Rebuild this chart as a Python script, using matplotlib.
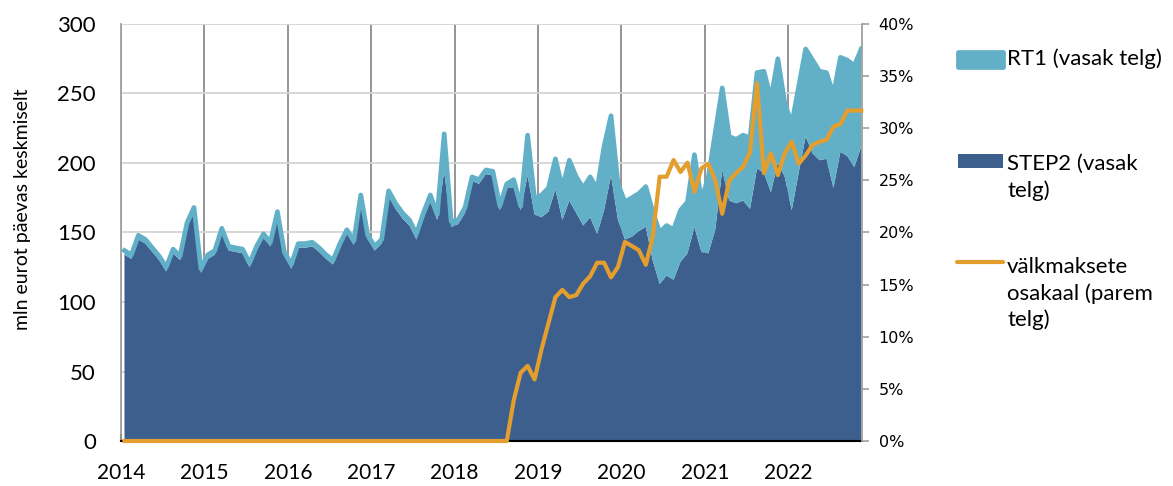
import numpy as np
import matplotlib
matplotlib.use("Agg")
import matplotlib.pyplot as plt
from matplotlib.patches import Rectangle
from matplotlib.lines import Line2D
from matplotlib.ticker import PercentFormatter

# kuised andmed, jaan 2014 - nov 2022 (mln eurot päevas keskmiselt)
step2_2014 = [134, 131, 145, 142, 136, 130, 122, 135, 130, 154, 164, 121]
step2_2015 = [131, 134, 150, 137, 136, 135, 125, 137, 146, 140, 161, 133]
step2_2016 = [124, 139, 139, 140, 136, 131, 127, 139, 149, 141, 172, 145]
step2_2017 = [137, 142, 176, 167, 160, 155, 145, 160, 172, 159, 194, 154]
step2_2018 = [156, 164, 187, 185, 192, 191, 166, 182, 182, 166, 191, 163]
step2_2019 = [161, 165, 181, 159, 173, 164, 155, 161, 149, 166, 191, 159]
step2_2020 = [145, 147, 151, 154, 130, 113, 119, 116, 129, 135, 154, 136]
step2_2021 = [135, 152, 195, 173, 171, 173, 167, 196, 193, 179, 200, 190]
step2_2022 = [166, 193, 219, 207, 202, 203, 182, 208, 205, 197, 212]

rt1_2014 = [3, 3, 3, 3, 3, 3, 3, 3, 3, 3, 4, 3]
rt1_2015 = [3, 3, 3, 3, 3, 3, 3, 3, 3, 3, 4, 3]
rt1_2016 = [3, 3, 3, 3, 3, 3, 3, 3, 3, 3, 5, 3]
rt1_2017 = [3, 3, 4, 4, 4, 4, 4, 4, 5, 4, 27, 4]
rt1_2018 = [3, 4, 3, 3, 3, 3, 3, 3, 6, 3, 29, 11]
rt1_2019 = [16, 17, 22, 23, 29, 26, 27, 29, 32, 46, 43, 26]
rt1_2020 = [27, 28, 27, 29, 35, 37, 36, 36, 37, 37, 52, 37]
rt1_2021 = [55, 70, 59, 46, 46, 47, 51, 69, 73, 67, 75, 53]
rt1_2022 = [62, 62, 63, 67, 64, 62, 67, 68, 69, 73, 70]

# välkmaksete osakaal, %
inst_2014 = [0] * 12
inst_2015 = [0] * 12
inst_2016 = [0] * 12
inst_2017 = [0] * 12
inst_2018 = [0, 0, 0, 0, 0, 0, 0, 0, 3.9, 6.55, 7.2, 5.9]
inst_2019 = [8.8, 11.3, 13.8, 14.5, 13.8, 14.0, 15.1, 15.8, 17.1, 17.1, 15.7, 16.7]
inst_2020 = [19.1, 18.7, 18.3, 16.9, 19.6, 25.35, 25.35, 26.95, 25.8, 26.7, 23.9, 26.15]
inst_2021 = [26.6, 25.0, 21.8, 25.0, 25.7, 26.3, 27.7, 34.3, 25.7, 27.6, 25.5, 27.6]
inst_2022 = [28.7, 26.6, 27.4, 28.4, 28.7, 28.9, 30.15, 30.4, 31.7, 31.7, 31.7]

years = list(range(2014, 2023))

step2 = np.array(step2_2014 + step2_2015 + step2_2016 + step2_2017 + step2_2018
                 + step2_2019 + step2_2020 + step2_2021 + step2_2022, dtype=float)
rt1 = np.array(rt1_2014 + rt1_2015 + rt1_2016 + rt1_2017 + rt1_2018
               + rt1_2019 + rt1_2020 + rt1_2021 + rt1_2022, dtype=float)
inst = np.array(inst_2014 + inst_2015 + inst_2016 + inst_2017 + inst_2018
                + inst_2019 + inst_2020 + inst_2021 + inst_2022, dtype=float) / 100

# kuu keskpaik aastates
t = 2014 + (np.arange(len(step2)) + 0.5) / 12

light = "#62B0C8"
dark = "#3C5F8D"
orange = "#E39E2E"

W, H = 1173, 486
fig = plt.figure(figsize=(W / 100, H / 100), dpi=100)
ax = fig.add_axes([121 / W, 1 - 441 / H, (862 - 121) / W, (441 - 24) / H])

ax.stackplot(t, step2, rt1, colors=[dark, light], zorder=2)
ax.plot(t, step2 + rt1, color=light, lw=3.4, solid_joinstyle="round", zorder=3)

ax.set_xlim(2014, 2022.884)
ax.set_ylim(0, 300)
ax.set_axisbelow(True)

ax.set_xticks(years)
ax.set_xticklabels([str(y) for y in years], fontsize=15, family="Lato")
ax.tick_params(axis="x", direction="in", length=5, width=1.5, color="black", pad=15.5)
ax.set_yticks(range(0, 301, 50))
ax.tick_params(axis="y", length=0, pad=18, labelsize=16)
for lab in ax.get_yticklabels():
    lab.set_family("Lato")

ax.xaxis.grid(True, color="#8C8C8C", lw=1.3)
ax.yaxis.grid(True, color="#D4D4D4", lw=1.3)

for s in ["top", "right"]:
    ax.spines[s].set_visible(False)
ax.spines["left"].set_color("#A0A0A0")
ax.spines["left"].set_linewidth(1.3)
ax.spines["bottom"].set_color("black")
ax.spines["bottom"].set_linewidth(1.5)

ax2 = ax.twinx()
ax2.plot(t, inst, color=orange, lw=3.0, clip_on=False, zorder=5)
ax2.set_ylim(0, 0.40)
ax2.set_yticks(np.arange(0, 0.401, 0.05))
ax2.yaxis.set_major_formatter(PercentFormatter(1.0, decimals=0))
ax2.tick_params(axis="y", direction="out", length=5, width=1.2, color="#A0A0A0",
                pad=7, labelsize=11.5)
for lab in ax2.get_yticklabels():
    lab.set_family("DejaVu Sans")
for s in ["top", "left", "bottom"]:
    ax2.spines[s].set_visible(False)
ax2.spines["right"].set_color("#A0A0A0")
ax2.spines["right"].set_linewidth(1.3)

fig.text(23 / W, 1 - 209 / H, "mln eurot päevas keskmiselt", rotation=90,
         ha="center", va="center", fontsize=14, family="Lato")

# legend paremal
def fx(px):
    return px / W

def fy(py):
    return 1 - py / H

fig.add_artist(Rectangle((fx(957.5), fy(67)), 45 / W, 15 / H, transform=fig.transFigure,
                         facecolor=light, edgecolor=light, lw=3.4, joinstyle="round"))
fig.add_artist(Rectangle((fx(958), fy(168)), 45 / W, 14 / H, transform=fig.transFigure,
                         facecolor=dark, edgecolor="none"))
fig.add_artist(Line2D([fx(957), fx(1003)], [fy(262), fy(262)], transform=fig.transFigure,
                      color=orange, lw=3.0, solid_capstyle="round"))

leg_kw = dict(fontsize=16, family="Lato", ha="left", va="center", linespacing=1.35)
fig.text(fx(1007), fy(59), "RT1 (vasak telg)", **leg_kw)
fig.text(fx(1007), fy(177.5), "STEP2 (vasak\ntelg)", **leg_kw)
fig.text(fx(1007), fy(293.5), "välkmaksete\nosakaal (parem\ntelg)", **leg_kw)

plt.savefig("out.png", dpi=100)
